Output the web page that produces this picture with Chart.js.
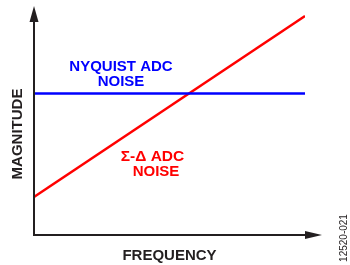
<!DOCTYPE html>
<html>
<head>
<meta charset="utf-8">
<script src="https://cdn.jsdelivr.net/npm/chart.js@4/dist/chart.umd.min.js"></script>
<style>
    html, body { margin: 0; padding: 0; background: #ffffff; }
    #wrap { position: relative; width: 350px; height: 265px; }
</style>
</head>
<body>
<div id="wrap"><canvas id="noiseChart"></canvas></div>
<script>
// Chart data (arbitrary units, 0..100)
const frequency = [0, 100];
const nyquistNoise = [61.8, 61.8];
const sigmaDeltaNoise = [16.6, 95.6];

const xAxisTitle = 'FREQUENCY';
const yAxisTitle = 'MAGNITUDE';
const nyquistLabel = ['NYQUIST ADC', 'NOISE'];
const sigmaDeltaLabel = ['\u03A3-\u0394 ADC', 'NOISE'];
const figureId = '12520-021';

(function() {
    'use strict';

    const AXIS_COLOR = '#231f20';
    const BLUE = '#0000ff';
    const RED = '#ff0000';
    const FONT_BOLD = "bold 15px 'Liberation Sans', Arial, sans-serif";

    // Draws the arrowed axes and all the text around the plot
    const decorPlugin = {
        id: 'decor',
        afterDatasetsDraw(chart) {
            const ctx = chart.ctx;
            const area = chart.chartArea;
            const xs = chart.scales.x;
            const ys = chart.scales.y;
            const x0 = xs.getPixelForValue(0);
            const y0 = ys.getPixelForValue(0);

            ctx.save();

            // axes
            ctx.strokeStyle = AXIS_COLOR;
            ctx.fillStyle = AXIS_COLOR;
            ctx.lineWidth = 2;
            ctx.beginPath();
            ctx.moveTo(x0, area.top + 14);
            ctx.lineTo(x0, y0);
            ctx.lineTo(area.right + 4, y0);
            ctx.stroke();

            // y arrow head
            ctx.beginPath();
            ctx.moveTo(x0, area.top);
            ctx.lineTo(x0 - 4.5, area.top + 16);
            ctx.lineTo(x0 + 4.5, area.top + 16);
            ctx.closePath();
            ctx.fill();

            // x arrow head
            ctx.beginPath();
            ctx.moveTo(area.right + 17, y0);
            ctx.lineTo(area.right, y0 - 4);
            ctx.lineTo(area.right, y0 + 4);
            ctx.closePath();
            ctx.fill();

            // axis titles
            ctx.font = FONT_BOLD;
            ctx.textAlign = 'center';
            ctx.textBaseline = 'alphabetic';
            ctx.fillText(xAxisTitle, (area.left + area.right) / 2, 260);

            ctx.save();
            ctx.translate(22, 134);
            ctx.rotate(-Math.PI / 2);
            ctx.fillText(yAxisTitle, 0, 0);
            ctx.restore();

            // series labels
            ctx.fillStyle = BLUE;
            ctx.fillText(nyquistLabel[0], 121, 71);
            ctx.fillText(nyquistLabel[1], 121, 86);

            ctx.fillStyle = RED;
            ctx.font = "bold 15.5px 'Liberation Sans', Arial, sans-serif";
            ctx.fillText(sigmaDeltaLabel[0], 152.5, 161);
            ctx.font = FONT_BOLD;
            ctx.fillText(sigmaDeltaLabel[1], 156, 176);

            // figure number
            ctx.fillStyle = AXIS_COLOR;
            ctx.font = "10px 'Liberation Sans', Arial, sans-serif";
            ctx.translate(347, 238);
            ctx.rotate(-Math.PI / 2);
            ctx.fillText(figureId, 0, 0);

            ctx.restore();
        }
    };

    function initializeNoiseChart() {
        const ctx = document.getElementById('noiseChart');
        if (!ctx) return;

        const lineStyle = {
            borderWidth: 2.4,
            pointRadius: 0,
            borderCapStyle: 'butt',
            fill: false,
            tension: 0
        };

        new Chart(ctx, {
            type: 'line',
            data: {
                datasets: [
                    Object.assign({
                        label: nyquistLabel.join(' '),
                        data: frequency.map((f, i) => ({ x: f, y: nyquistNoise[i] })),
                        borderColor: BLUE
                    }, lineStyle),
                    Object.assign({
                        label: sigmaDeltaLabel.join(' '),
                        data: frequency.map((f, i) => ({ x: f, y: sigmaDeltaNoise[i] })),
                        borderColor: RED
                    }, lineStyle)
                ]
            },
            options: {
                responsive: true,
                maintainAspectRatio: false,
                animation: false,
                layout: {
                    padding: { left: 34, right: 45, top: 6, bottom: 30 }
                },
                plugins: {
                    legend: { display: false },
                    tooltip: { enabled: false },
                    title: { display: false }
                },
                scales: {
                    x: { type: 'linear', min: 0, max: 100, display: false },
                    y: { type: 'linear', min: 0, max: 100, display: false }
                }
            },
            plugins: [decorPlugin]
        });
    }

    if (document.readyState === 'loading') {
        document.addEventListener('DOMContentLoaded', initializeNoiseChart);
    } else {
        initializeNoiseChart();
    }
})();
</script>
</body>
</html>
